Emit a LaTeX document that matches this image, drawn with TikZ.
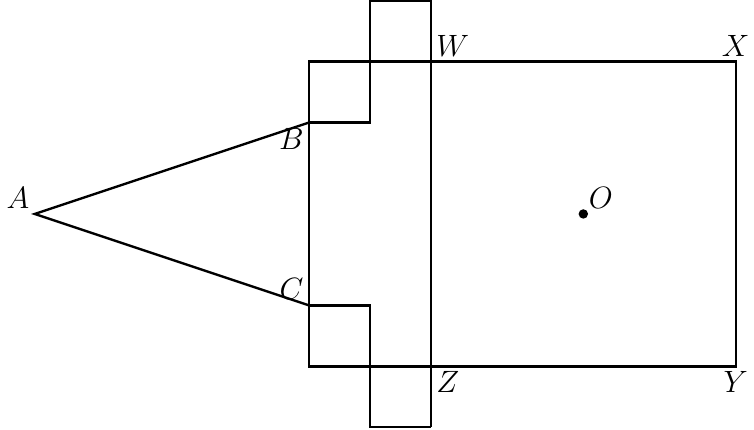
\documentclass[tikz,border=0pt]{standalone}
\usepackage{tikz}

\begin{document}
\begin{tikzpicture}[line width=1.1pt, every label/.style={font=\Large, inner sep=2pt}]
	\useasboundingbox (-5.07,-3.54) rectangle (7.3,3.51);
	\coordinate[label=above left:$A$] (A) at (-4.5,0);
	\coordinate[label=below left:$B$] (B) at (0,1.5);
	\coordinate[label=above left:$C$] (C) at (0,-1.5);
	\coordinate[label=above right:$W$] (W) at (2,2.5);
	\coordinate[label=above:$X$] (X) at (7,2.5);
	\coordinate[label=below:$Y$] (Y) at (7,-2.5);
	\coordinate[label=below right:$Z$] (Z) at (2,-2.5);
	\coordinate (P) at (0,2.5);
	\coordinate (Q) at (0,-2.5);
	\coordinate (Bi) at (1,1.5);
	\coordinate (Ci) at (1,-1.5);
	\coordinate (T1) at (1,3.5);
	\coordinate (T2) at (2,3.5);
	\coordinate (S1) at (1,-3.5);
	\coordinate (S2) at (2,-3.5);
	% the square and the strip
	\draw (P) -- (X) -- (Y) -- (Q) -- cycle;
	\draw (S2) -- (T2) -- (T1) -- (Bi) -- (B);
	\draw (C) -- (Ci) -- (S1) -- (S2);
	% the triangle
	\draw (B) -- (A) -- (C);
	\fill (4.5,0) coordinate (O) circle (2.2pt);
	\node[above right, inner sep=2pt, font=\Large] at (O) {$O$};
\end{tikzpicture}
\end{document}
